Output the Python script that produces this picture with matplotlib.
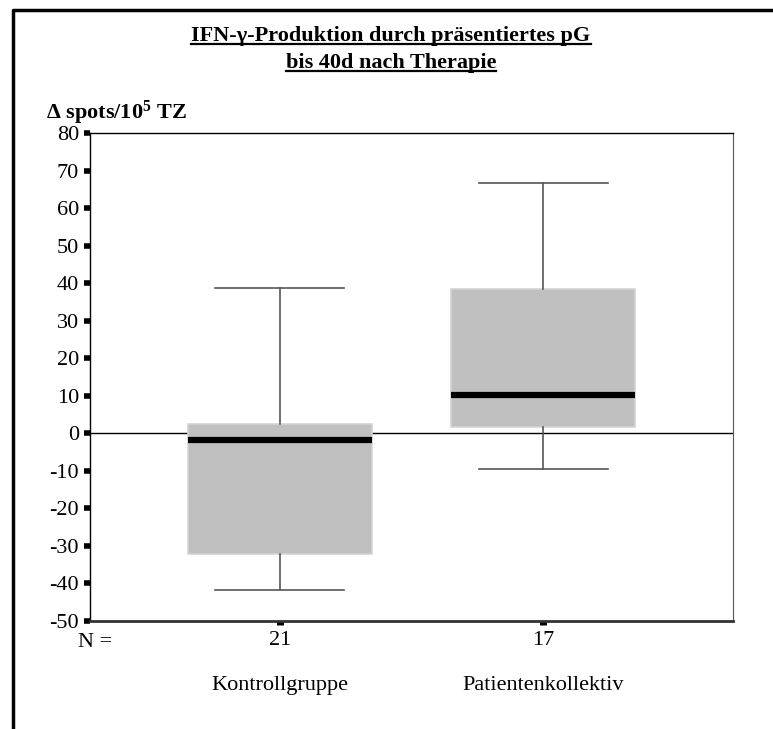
import matplotlib
matplotlib.use('Agg')
import matplotlib.pyplot as plt
from matplotlib.lines import Line2D
from matplotlib import rc

rc('font', family='Liberation Serif', size=16)
rc('mathtext', default='regular')
rc('axes', unicode_minus=False)

groups = ['Kontrollgruppe', 'Patientenkollektiv']
counts = [21, 17]
medians = [-1.8, 10.3]
q1 = [-32.2, 1.8]
q3 = [2.5, 38.4]
whislo = [-41.7, -9.5]
whishi = [38.7, 66.7]

stats = []
for i in range(len(groups)):
    stats.append({'label': groups[i], 'med': medians[i], 'q1': q1[i], 'q3': q3[i],
                  'whislo': whislo[i], 'whishi': whishi[i], 'fliers': []})

fig = plt.figure(figsize=(7.73, 7.29), dpi=100)
W, H = 773.0, 729.0
ax = fig.add_axes([90 / W, 1 - 621 / H, (733 - 90) / W, (621 - 133) / H])

ax.axhline(0, color='black', linewidth=1, zorder=1)
ax.bxp(stats, positions=[1, 2], widths=0.70, patch_artist=True, showfliers=False,
       boxprops=dict(facecolor='#c0c0c0', edgecolor='#d4d4d4', linewidth=1.2),
       medianprops=dict(color='black', linewidth=4.5),
       whiskerprops=dict(color='#555555', linewidth=1.2),
       capprops=dict(color='#555555', linewidth=1.2),
       capwidths=0.49, zorder=2)

ax.set_xlim(0.278, 2.722)
ax.set_ylim(-50, 80)
ax.set_yticks(range(-50, 81, 10))
ax.set_xticks([1, 2])
ax.set_xticklabels([str(n) for n in counts])
ax.tick_params(axis='y', direction='out', length=4, width=4, labelsize=16, pad=4)
ax.tick_params(axis='x', direction='out', length=3, width=5, labelsize=16, pad=4)
ax.spines['left'].set_linewidth(1)
ax.spines['top'].set_linewidth(1)
ax.spines['right'].set_color('#555555')
ax.spines['bottom'].set_color('#333333')
ax.spines['bottom'].set_linewidth(2)

fig.text(78 / W, 1 - 647 / H, 'N =', fontsize=16, ha='left', va='baseline')
for x, name in zip([1, 2], groups):
    ax.text(x, -0.141, name, transform=ax.get_xaxis_transform(),
            fontsize=16, ha='center', va='baseline')

ax.text(46 / W, 1 - 119 / H, 'Δ spots/10$^5$ TZ', transform=fig.transFigure,
        fontsize=16, fontweight='bold', ha='left', va='baseline')

# title, underlined line by line
title_lines = ['IFN-γ-Produktion durch präsentiertes pG', 'bis 40d nach Therapie']
title_base = [41, 68]
titles = [fig.text(391 / W, 1 - y / H, s, fontsize=16, fontweight='bold',
                   ha='center', va='baseline') for s, y in zip(title_lines, title_base)]
fig.canvas.draw()
renderer = fig.canvas.get_renderer()
for t, y in zip(titles, title_base):
    bb = t.get_window_extent(renderer)
    yl = 1 - (y + 3) / H
    fig.add_artist(Line2D([bb.x0 / W, bb.x1 / W], [yl, yl],
                          transform=fig.transFigure, color='black', linewidth=1.6))

# outer frame, open to the right and bottom
fig.add_artist(Line2D([13 / W, 13 / W, 1.0], [0.0, 1 - 10 / H, 1 - 10 / H],
                      transform=fig.transFigure, color='black', linewidth=2.5))

fig.savefig('out.png', dpi=100)
